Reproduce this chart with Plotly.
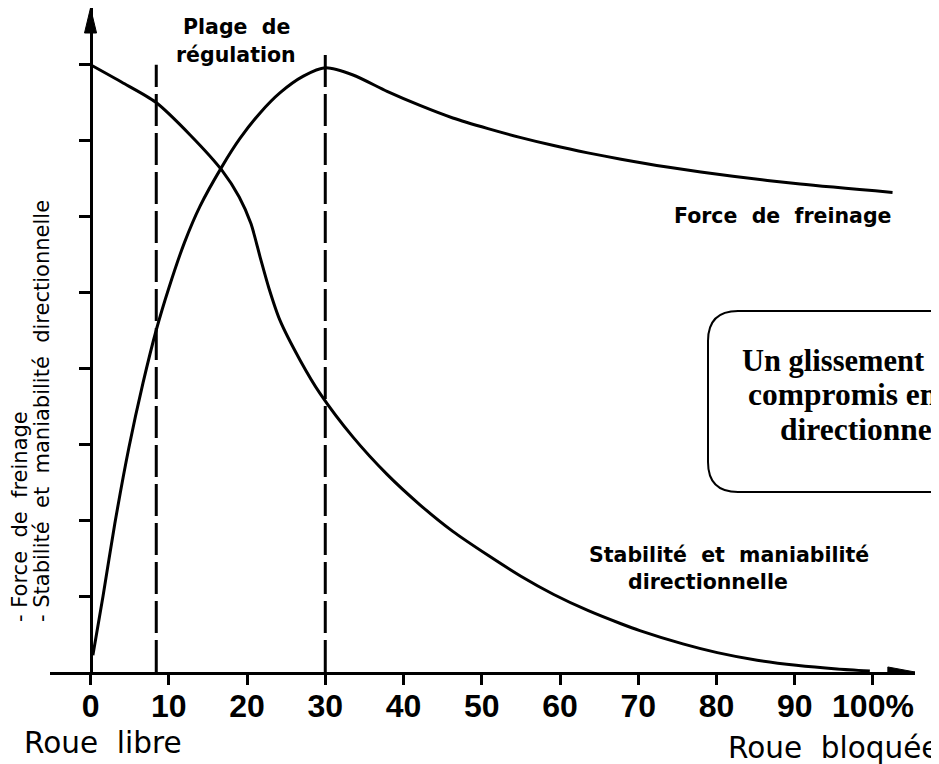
import plotly.graph_objects as go

# The page body has an 8px margin, so the figure is drawn 8px smaller and
# every reference pixel position is shifted by OFF.
OFF = 8
W, H = 939 - OFF, 764 - OFF

# ---- data ----
force_x = [0.3, 1.6, 3.1, 4.9, 6.7, 8.4, 10.0, 12.0, 14.0, 16.8, 19.1, 21.7, 24.2,
           27.2, 30.0, 33.55, 37.9, 42.1, 46.3, 50.8, 55.0, 59.2, 63.55, 67.8, 73.7,
           82.1, 90.7, 102.5]
force_y = [0.22, 1.0, 1.95, 2.95, 3.8, 4.5, 5.05, 5.65, 6.13, 6.65, 7.02, 7.36, 7.62,
           7.84, 7.95, 7.855, 7.64, 7.455, 7.29, 7.15, 7.032, 6.927, 6.831, 6.748,
           6.645, 6.522, 6.42, 6.31]

stab_x = [0.0, 4.0, 8.3, 12.7, 16.8, 19.0, 20.5, 21.7, 22.8, 24.2, 26.8, 29.3, 33.55,
          37.9, 42.1, 46.3, 50.8, 55.0, 59.2, 63.55, 67.8, 70.2, 75.7, 80.1, 85.2,
          90.2, 95.4, 99.6]
stab_y = [7.99, 7.76, 7.5, 7.07, 6.6, 6.25, 5.9, 5.45, 5.05, 4.63, 4.1, 3.67, 3.09,
          2.6, 2.2, 1.85, 1.535, 1.26, 1.02, 0.81, 0.635, 0.545, 0.37, 0.255, 0.155,
          0.088, 0.04, 0.013]

x_ticks = [0, 10, 20, 30, 40, 50, 60, 70, 80, 90, 100]
x_tick_labels = ["0", "10", "20", "30", "40", "50", "60", "70", "80", "90", "100%"]
y_ticks = [1, 2, 3, 4, 5, 6, 7, 8]

regulation_x = [8.4, 30.0]
regulation_top = [7.99, 8.14]

# axis extents (data units)
X_MIN, X_MAX = -5.18, 105.37
Y_MAX = 8.737

fig = go.Figure()

line_style = dict(color="black", width=3, shape="spline", smoothing=0.7)
fig.add_trace(go.Scatter(x=force_x, y=force_y, mode="lines", line=line_style,
                         hoverinfo="skip", showlegend=False))
fig.add_trace(go.Scatter(x=stab_x, y=stab_y, mode="lines", line=line_style,
                         hoverinfo="skip", showlegend=False))

for xv, top in zip(regulation_x, regulation_top):
    fig.add_trace(go.Scatter(x=[xv, xv], y=[0, top], mode="lines",
                             line=dict(color="black", width=3, dash="32px,7px"),
                             hoverinfo="skip", showlegend=False))

# arrow heads
fig.add_trace(go.Scatter(x=[-0.77, 0, 0.77, -0.77], y=[8.408, Y_MAX, 8.408, 8.408],
                         mode="lines", fill="toself", fillcolor="black",
                         line=dict(color="black", width=1), hoverinfo="skip",
                         showlegend=False))
fig.add_trace(go.Scatter(x=[101.9, X_MAX, 101.9, 101.9], y=[0.066, 0, -0.066, 0.066],
                         mode="lines", fill="toself", fillcolor="black",
                         line=dict(color="black", width=1), hoverinfo="skip",
                         showlegend=False))


def px(xp):
    return (xp - OFF) / W


def py(yp):
    return 1 - (yp - OFF) / H


def ann(text, x, y, size, family="DejaVu Sans", weight="bold", xanchor="center",
        yanchor="middle", angle=0):
    fig.add_annotation(text=text, x=px(x), y=py(y), xref="paper", yref="paper",
                       xanchor=xanchor, yanchor=yanchor, showarrow=False,
                       textangle=angle, borderpad=0,
                       font=dict(family=family, size=size, color="black",
                                 weight=weight))


NB = "\u00a0"
ann("Plage" + NB + NB + "de", 236, 27, 20.5)
ann("régulation", 236, 55, 20.5)
ann("Force" + NB + NB + "de" + NB + NB + "freinage", 783, 216, 20.5)
ann("Stabilité" + NB + NB + "et" + NB + NB + "maniabilité", 729, 555, 20.5)
ann("directionnelle", 708, 582, 20.5)
ann("Roue" + NB + NB + "libre", 23, 743, 29.5, weight="normal", xanchor="left")
ann("Roue" + NB + NB + "bloquée", 941, 748, 29.5, weight="normal", xanchor="right")

ann("-" + NB + "Force" + NB + NB + "de" + NB + NB + "freinage", 20, 517, 21,
    weight="normal", angle=-90)
ann("-" + NB + "Stabilité" + NB + NB + "et" + NB + NB + "maniabilité" + NB + NB
    + "directionnelle", 42, 411, 21, weight="normal", angle=-90)

# rounded box (runs past the right edge as in the reference)
L, T, B, R = 708, 311, 492, 30
path = (f"M {px(1010)},{py(T)} L {px(L + R)},{py(T)} Q {px(L)},{py(T)} {px(L)},{py(T + R)} "
        f"L {px(L)},{py(B - R)} Q {px(L)},{py(B)} {px(L + R)},{py(B)} L {px(1010)},{py(B)}")
fig.add_shape(type="path", path=path, xref="paper", yref="paper",
              line=dict(color="black", width=2), fillcolor="rgba(0,0,0,0)")

serif = "Liberation Serif"
ann("Un glissement de 10 à 30 % est le meilleur", 741, 361, 30.5, family=serif,
    xanchor="left")
ann("compromis entre freinage et stabilité", 747, 395, 31.5, family=serif,
    xanchor="left")
ann("directionnelle.", 779, 429, 31.5, family=serif, xanchor="left")

fig.update_layout(
    width=W, height=H,
    margin=dict(l=0, r=0, t=0, b=0),
    paper_bgcolor="white", plot_bgcolor="white",
    showlegend=False,
    xaxis=dict(domain=[px(50), px(915)], range=[X_MIN, X_MAX], anchor="y",
               showline=True, linecolor="black", linewidth=3,
               ticks="outside", ticklen=10, tickwidth=3, tickcolor="black",
               tickvals=x_ticks, ticktext=x_tick_labels, ticklabelstandoff=-6,
               tickfont=dict(family="Liberation Sans", size=32, color="black",
                             weight="bold"),
               showgrid=False, zeroline=False, fixedrange=True),
    yaxis=dict(domain=[py(672), py(8)], range=[0, Y_MAX],
               anchor="free", position=px(90.5),
               showline=True, linecolor="black", linewidth=3,
               ticks="outside", ticklen=11, tickwidth=3, tickcolor="black",
               tickvals=y_ticks, showticklabels=False,
               showgrid=False, zeroline=False, fixedrange=True),
)

fig.write_html("out.html")
